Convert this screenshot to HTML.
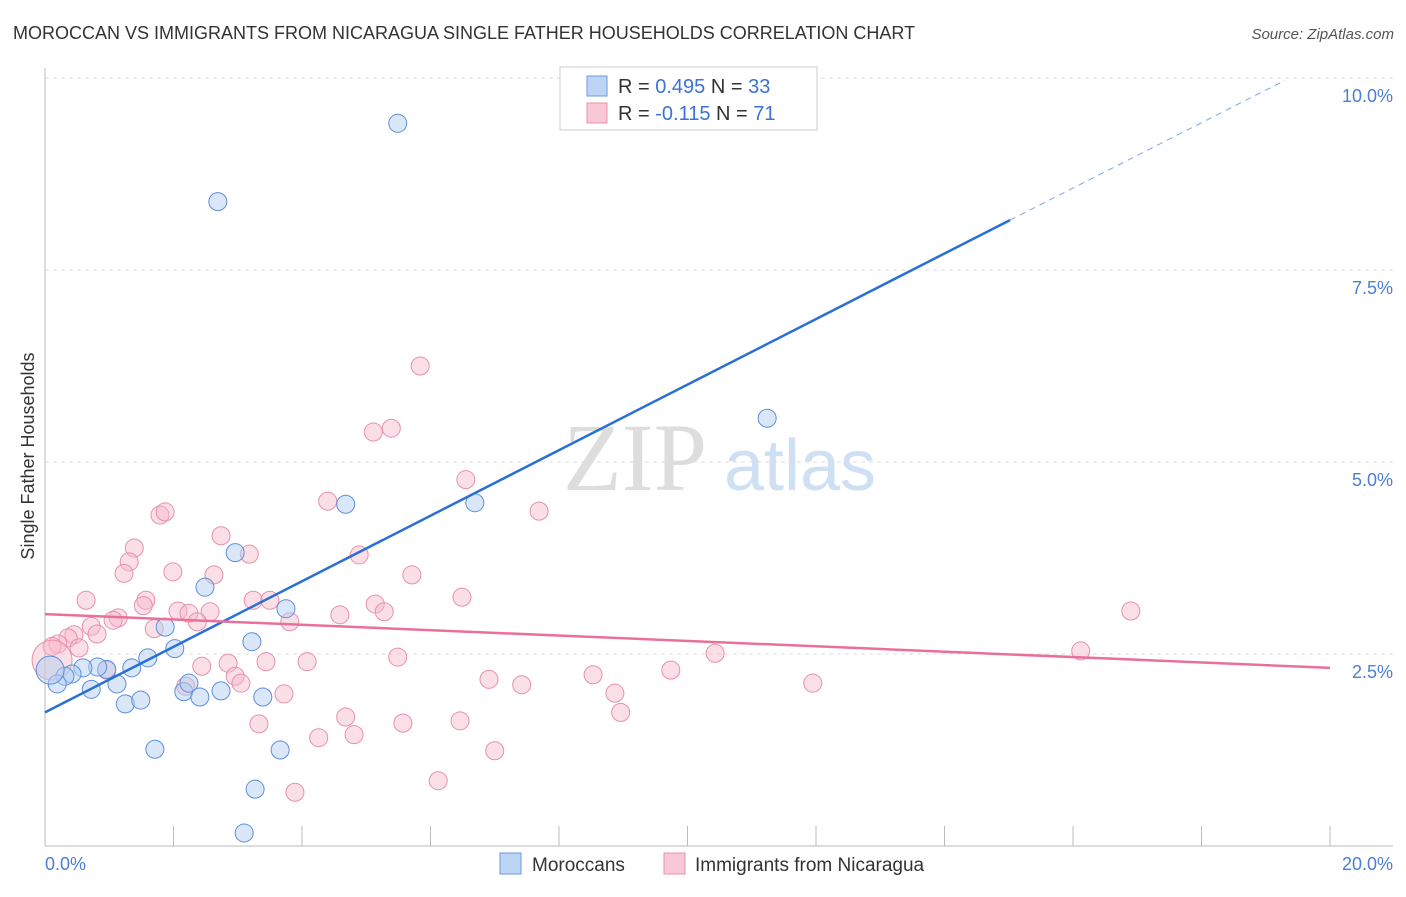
<!DOCTYPE html>
<html><head><meta charset="utf-8"><style>
body{margin:0;background:#fff;font-family:"Liberation Sans",sans-serif}
</style></head><body>
<svg width="1406" height="892" id="c" xmlns="http://www.w3.org/2000/svg">
<text x="13" y="39" font-size="18" fill="#333">MOROCCAN VS IMMIGRANTS FROM NICARAGUA SINGLE FATHER HOUSEHOLDS CORRELATION CHART</text>
<text x="1394" y="39" font-size="15" fill="#555" text-anchor="end" font-style="italic">Source: ZipAtlas.com</text>
<text x="635" y="490" font-size="96" fill="#ddd" text-anchor="middle" font-family="Liberation Serif,serif">ZIP</text>
<text x="800" y="490" font-size="72" fill="#cfe0f5" text-anchor="middle">atlas</text>
<text transform="translate(34,456) rotate(-90)" font-size="18" fill="#333" text-anchor="middle">Single Father Households</text>
<g id="grid"></g><g id="pts"></g><g id="lines"></g>
<g>
<rect x="560" y="67" width="257" height="63" fill="#fff" stroke="#ccc"/>
<rect x="587" y="76" width="20" height="20" fill="#bcd5f5" stroke="#6a9ae0"/>
<rect x="587" y="103" width="20" height="20" fill="#f9c8d6" stroke="#e890aa"/>
<text x="618" y="93" font-size="20" fill="#333">R = <tspan fill="#3b73d1">0.495</tspan>   N = <tspan fill="#3b73d1">33</tspan></text>
<text x="618" y="120" font-size="20" fill="#333">R = <tspan fill="#3b73d1">-0.115</tspan>   N = <tspan fill="#3b73d1"> 71</tspan></text>
</g>
<g>
<rect x="500" y="853" width="21" height="21" fill="#bcd5f5" stroke="#6a9ae0"/>
<text x="532" y="871" font-size="19" fill="#333">Moroccans</text>
<rect x="664" y="853" width="21" height="21" fill="#f9c8d6" stroke="#e890aa"/>
<text x="695" y="871" font-size="19" fill="#333">Immigrants from Nicaragua</text>
</g>
</svg>
<script>
const yTicks=[2.5,5.0,7.5,10.0];
const xTickLabels=["0.0%","20.0%"];
const blueX=[5.49,2.69,11.24,4.68,6.69,2.96,2.49,1.87,3.75,3.22,2.02,1.60,1.35,0.96,0.82,0.59,0.42,0.31,0.19,0.08,0.72,1.12,1.25,1.49,2.16,2.24,2.41,2.74,3.39,1.71,3.66,3.27,3.10];
const blueY=[9.41,8.39,5.57,4.45,4.47,3.82,3.37,2.85,3.09,2.66,2.57,2.45,2.32,2.30,2.33,2.32,2.24,2.21,2.11,2.29,2.04,2.11,1.85,1.90,2.01,2.12,1.94,2.02,1.94,1.26,1.25,0.74,0.17];
const pinkX=[5.84,5.39,5.11,6.55,4.40,7.69,1.79,1.87,2.74,1.39,4.89,3.18,1.31,1.23,1.99,5.71,2.63,6.49,0.64,1.57,3.24,3.50,5.14,1.53,2.07,2.24,2.57,5.28,4.59,16.90,1.14,1.06,0.72,3.81,2.37,1.70,0.45,0.81,0.36,0.20,0.11,0.53,16.12,10.43,5.49,3.44,4.08,2.85,2.44,9.74,8.53,2.96,0.96,6.91,7.42,3.05,11.95,2.19,3.72,8.87,4.68,6.46,8.96,3.33,5.57,4.26,4.81,7.00,6.12,3.89,0.11];
const pinkY=[6.25,5.44,5.39,4.77,4.49,4.36,4.31,4.35,4.04,3.88,3.79,3.80,3.70,3.55,3.57,3.53,3.53,3.24,3.20,3.20,3.20,3.20,3.15,3.13,3.06,3.03,3.05,3.05,3.01,3.06,2.97,2.94,2.86,2.92,2.92,2.83,2.75,2.76,2.71,2.63,2.60,2.58,2.54,2.51,2.46,2.40,2.40,2.38,2.34,2.29,2.23,2.21,2.29,2.17,2.10,2.12,2.12,2.08,1.98,1.99,1.68,1.63,1.74,1.59,1.60,1.41,1.45,1.24,0.85,0.70,2.42];
const blueTrend=[1.74,8.15];const blueTrendX=[0,15.02,19.3];const blueDashEnd=9.97;
const pinkTrend=[3.02,2.32];
const X=v=>45+v*64.25, Y=v=>846-v*76.8;
const NS="http://www.w3.org/2000/svg";
function mk(t,a,p){const e=document.createElementNS(NS,t);for(const k in a)e.setAttribute(k,a[k]);p.appendChild(e);return e;}
const g=document.getElementById('grid');
yTicks.forEach(t=>{const l=mk('line',{x1:45,x2:1393,y1:Y(t),y2:Y(t),stroke:'#ddd','stroke-dasharray':'4,4'},g);


const tx=mk('text',{x:1393,y:Y(t)+24,'font-size':18,fill:'#4a7fd4','text-anchor':'end'},g);tx.textContent=t.toFixed(1)+'%';

});
const ax=mk('line',{x1:45,x2:1393,y1:846,y2:846,stroke:'#bbb'},g);


const ay=mk('line',{x1:45,x2:45,y1:68,y2:846,stroke:'#bbb'},g);


for(let i=0;i<=10;i++){const t=mk('line',{x1:X(i*2),x2:X(i*2),y1:826,y2:846,stroke:'#bbb'},g);

}
[[0,'start',45],[1,'end',1393]].forEach(([i,a,x])=>{const t=mk('text',{x:x,y:870,'font-size':18,fill:'#4a7fd4','text-anchor':a},g);t.textContent=xTickLabels[i];

});
const P=document.getElementById('pts');
pinkX.forEach((v,i)=>{const big=i===pinkX.length-1;const c=mk('circle',{cx:X(v),cy:Y(pinkY[i]),r:big?20:9,fill:'#f7b8ca','fill-opacity':0.45,stroke:'#e890aa','stroke-width':1},P);

});
blueX.forEach((v,i)=>{const big=i===19;const c=mk('circle',{cx:X(v),cy:Y(blueY[i]),r:big?14:9,fill:'#b4cff2','fill-opacity':0.5,stroke:'#5d8fdc','stroke-width':1},P);

});
const L=document.getElementById('lines');
const b1=mk('line',{x1:X(blueTrendX[0]),y1:Y(blueTrend[0]),x2:X(blueTrendX[1]),y2:Y(blueTrend[1]),stroke:'#2a6fd6','stroke-width':2.5},L);


const b2=mk('line',{x1:X(blueTrendX[1]),y1:Y(blueTrend[1]),x2:X(blueTrendX[2]),y2:Y(blueDashEnd),stroke:'#7fa6e0','stroke-width':1,'stroke-dasharray':'6,5'},L);


const p1=mk('line',{x1:X(0),y1:Y(pinkTrend[0]),x2:X(20),y2:Y(pinkTrend[1]),stroke:'#e8709a','stroke-width':2.5},L);


</script>
</body></html>
